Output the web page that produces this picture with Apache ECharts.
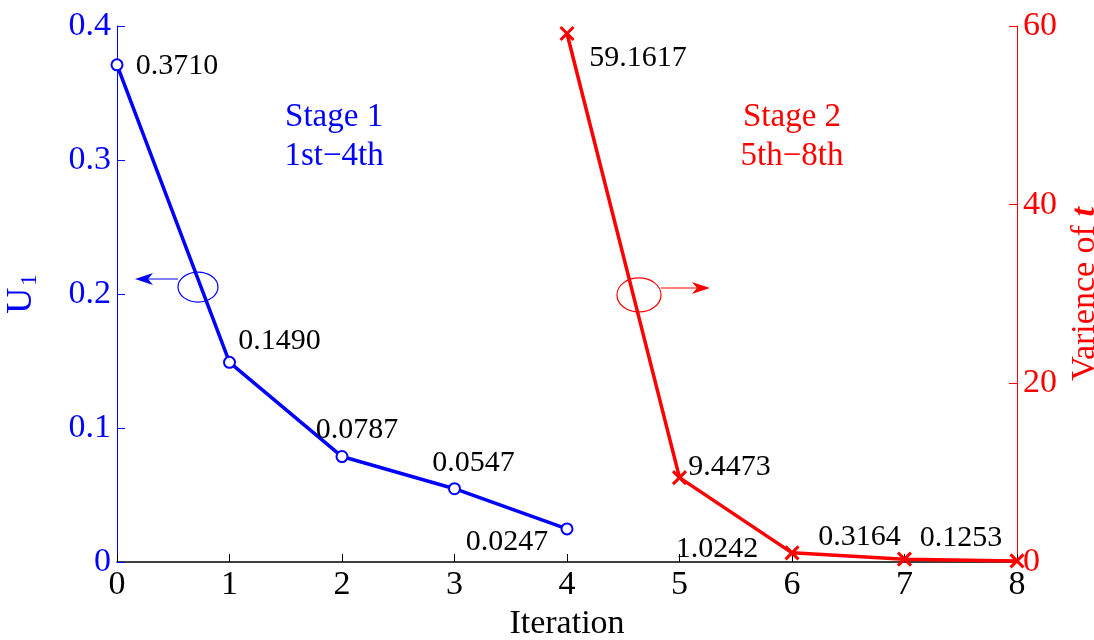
<!DOCTYPE html>
<html>
<head>
<meta charset="utf-8">
<script src="https://cdn.jsdelivr.net/npm/echarts@6/dist/echarts.min.js"></script>
<style>
html,body{margin:0;padding:0;background:#fff;}
#c{width:1094px;height:640px;}
</style>
</head>
<body>
<div id="c"></div>
<script>
// ---- data ----
const iterStage1 = [0, 1, 2, 3, 4];
const u1Values = [0.3710, 0.1490, 0.0787, 0.0547, 0.0247];
const iterStage2 = [4, 5, 6, 7, 8];
const varianceValues = [59.1617, 9.4473, 1.0242, 0.3164, 0.1253];
const stage1Text = ['Stage 1', '1st\u22124th'];
const stage2Text = ['Stage 2', '5th\u22128th'];

// ---- layout / style (not data) ----
const FONT = "'Liberation Serif','Times New Roman',serif";
const BLUE = '#0000ff', RED = '#ff0000';
const blueLabelOffsets = [[60, 1], [50, -21], [15, -26], [19, -26], [-60, 13]];
const redLabelOffsets = [[71, 25], [50, -10], [-75, -4], [-45, -22], [-56, -23]];
// annotation anchors in data coordinates: [centerX, centerY, arrowTipX, arrowY]
const blueMarker = [[0.72, 0.2052, 0.16, 0.2112]];
const redMarker = [[4.64, 29.9, 5.271, 30.67]];
const stage1Pos = [[1.93, 0.317]];
const stage2Pos = [[6.0, 47.6]];

const blueData = iterStage1.map((x, i) => ({
  value: [x, u1Values[i]],
  label: { offset: blueLabelOffsets[i] }
}));
const redData = iterStage2.map((x, i) => ({
  value: [x, varianceValues[i]],
  label: { offset: redLabelOffsets[i] }
}));

function markerRenderer(rx, ry, color, dir) {
  return function (params, api) {
    const c = api.coord([api.value(0), api.value(1)]);
    const tip = api.coord([api.value(2), api.value(3)]);
    const startX = c[0] + dir * rx;
    const hx = -dir;
    return {
      type: 'group',
      children: [
        { type: 'ellipse', shape: { cx: c[0], cy: c[1], rx: rx, ry: ry },
          style: { fill: 'none', stroke: color, lineWidth: 1.2 } },
        { type: 'line', shape: { x1: startX, y1: tip[1], x2: tip[0] + hx * 10, y2: tip[1] },
          style: { stroke: color, lineWidth: 1.2 } },
        { type: 'polygon', shape: { points: [
            [tip[0], tip[1]],
            [tip[0] + hx * 18, tip[1] - 6],
            [tip[0] + hx * 13, tip[1]],
            [tip[0] + hx * 18, tip[1] + 6]
          ] }, style: { fill: color } }
      ]
    };
  };
}
function textRenderer(lines, color) {
  return function (params, api) {
    const p = api.coord([api.value(0), api.value(1)]);
    return {
      type: 'text',
      x: p[0], y: p[1],
      style: {
        text: lines.join('\n'), fill: color, fontSize: 33, fontFamily: FONT,
        align: 'center', verticalAlign: 'middle', lineHeight: 39
      }
    };
  };
}

const chart = echarts.init(document.getElementById('c'), null, { renderer: 'canvas' });
chart.setOption({
  animation: false,
  backgroundColor: '#fff',
  grid: { left: 117, right: 77, top: 26, bottom: 78, containLabel: false, outerBoundsMode: 'none' },
  xAxis: {
    type: 'value', min: 0, max: 8, interval: 1,
    name: 'Iteration', nameLocation: 'middle', nameGap: 42,
    nameTextStyle: { color: '#000', fontSize: 34, fontFamily: FONT },
    axisLine: { show: true, onZero: false, lineStyle: { color: '#000', width: 1.5 } },
    axisTick: { show: true, inside: true, length: 8, lineStyle: { color: '#000', width: 1 } },
    axisLabel: { color: '#000', fontSize: 34, fontFamily: FONT, margin: 6 },
    splitLine: { show: false }
  },
  yAxis: [{
    type: 'value', min: 0, max: 0.4, interval: 0.1, position: 'left',
    name: '{u|U}{s|1}', nameLocation: 'middle', nameGap: 76, nameRotate: 90,
    nameTextStyle: { color: BLUE, fontFamily: FONT,
      rich: { u: { fontSize: 36, color: BLUE, fontFamily: FONT },
              s: { fontSize: 23, color: BLUE, fontFamily: FONT, padding: [16, 0, 0, 2] } } },
    axisLine: { show: true, onZero: false, lineStyle: { color: BLUE, width: 1 } },
    axisTick: { show: true, inside: true, length: 8, lineStyle: { color: BLUE } },
    axisLabel: { color: BLUE, fontSize: 34, fontFamily: FONT, margin: 6 },
    splitLine: { show: false }
  }, {
    type: 'value', min: 0, max: 60, interval: 20, position: 'right',
    name: '{a|Varience of }{b|t}', nameLocation: 'middle', nameGap: 45, nameRotate: 90,
    nameTextStyle: { color: RED, fontFamily: FONT,
      rich: { a: { fontSize: 34, color: RED, fontFamily: FONT },
              b: { fontSize: 34, color: RED, fontFamily: FONT, fontStyle: 'italic', fontWeight: 'bold' } } },
    axisLine: { show: true, onZero: false, lineStyle: { color: RED, width: 1 } },
    axisTick: { show: true, inside: true, length: 8, lineStyle: { color: RED } },
    axisLabel: { color: RED, fontSize: 34, fontFamily: FONT, margin: 6 },
    splitLine: { show: false }
  }],
  series: [{
    type: 'line', yAxisIndex: 0, data: blueData,
    symbol: 'emptyCircle', symbolSize: 11,
    itemStyle: { color: BLUE, borderColor: BLUE, borderWidth: 2.5 },
    lineStyle: { color: BLUE, width: 3.5 },
    clip: false, z: 3,
    label: { show: true, position: 'inside', color: '#000', fontSize: 30, fontFamily: FONT,
      formatter: p => u1Values[p.dataIndex].toFixed(4) }
  }, {
    type: 'line', yAxisIndex: 1, data: redData,
    symbol: 'path://M0,0L10,10M10,0L0,10', symbolSize: 13,
    itemStyle: { color: RED, borderColor: RED, borderWidth: 3 },
    lineStyle: { color: RED, width: 3.5 },
    clip: false, z: 3,
    label: { show: true, position: 'inside', color: '#000', fontSize: 30, fontFamily: FONT,
      formatter: p => varianceValues[p.dataIndex].toFixed(4) }
  }, {
    type: 'custom', yAxisIndex: 0, data: blueMarker, clip: false, z: 4,
    renderItem: markerRenderer(20, 15, BLUE, -1)
  }, {
    type: 'custom', yAxisIndex: 1, data: redMarker, clip: false, z: 4,
    renderItem: markerRenderer(22, 17, RED, 1)
  }, {
    type: 'custom', yAxisIndex: 0, data: stage1Pos, clip: false,
    renderItem: textRenderer(stage1Text, BLUE)
  }, {
    type: 'custom', yAxisIndex: 1, data: stage2Pos, clip: false,
    renderItem: textRenderer(stage2Text, RED)
  }]
});
</script>
</body>
</html>
